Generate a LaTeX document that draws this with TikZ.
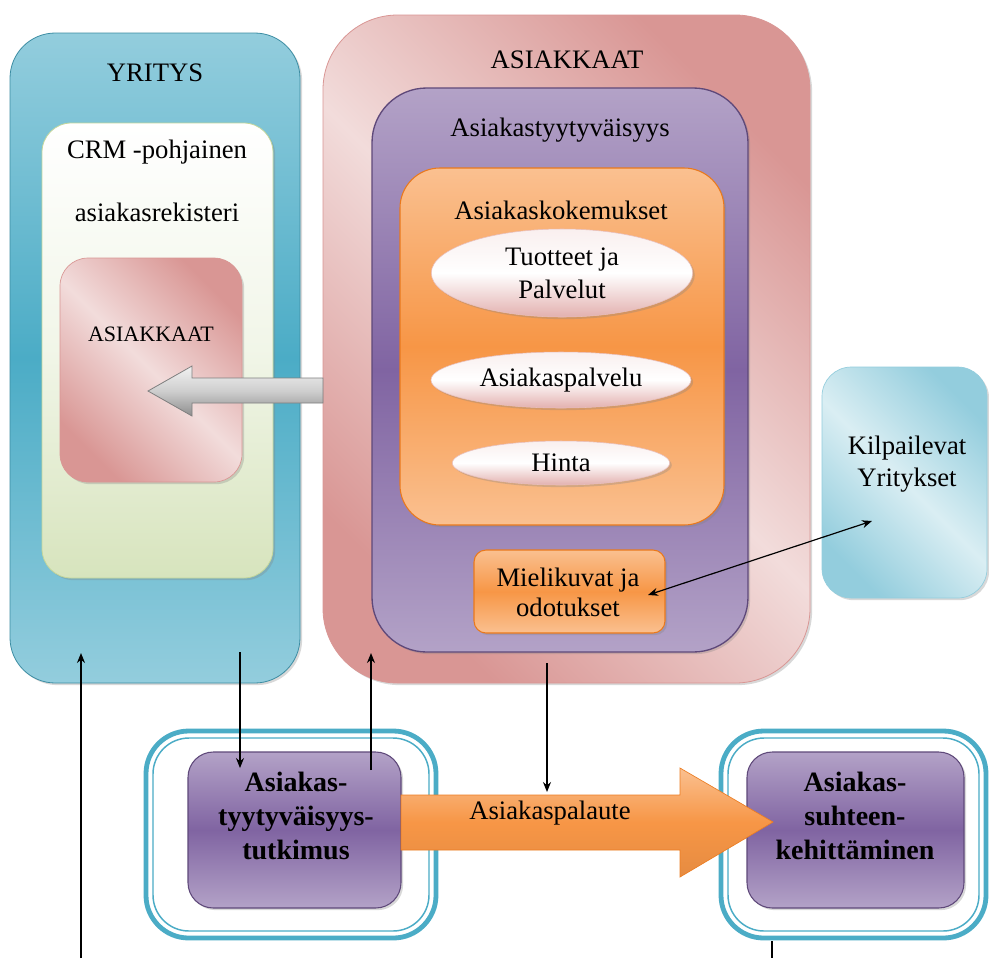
\documentclass[tikz,border=0pt]{standalone}
\usepackage{fontspec}
\setmainfont{Liberation Serif}
\usetikzlibrary{shadows,shapes.geometric,arrows.meta,fit}

\definecolor{blueDeep}{HTML}{4BACC6}
\definecolor{blueSoft}{HTML}{93CDDD}
\definecolor{blueEdge}{HTML}{3C8DA3}
\definecolor{bluePale}{HTML}{DAEEF3}
\definecolor{greenPale}{HTML}{D7E4BD}
\definecolor{greenEdge}{HTML}{C3D69B}
\definecolor{pinkDeep}{HTML}{D99694}
\definecolor{pinkPale}{HTML}{F2DCDB}
\definecolor{purpleDeep}{HTML}{8064A2}
\definecolor{purplePale}{HTML}{B3A2C7}
\definecolor{purpleEdge}{HTML}{5F497A}
\definecolor{orangeDeep}{HTML}{F79646}
\definecolor{orangePale}{HTML}{FAC090}
\definecolor{orangeEdge}{HTML}{E46C0A}
\definecolor{grayPale}{HTML}{F2F2F2}
\definecolor{grayDeep}{HTML}{A6A6A6}
\definecolor{grayEdge}{HTML}{7F7F7F}

\begin{document}
\begin{tikzpicture}[x=0.75pt, y=-0.75pt,
  panel/.style={rectangle, inner sep=0pt, outer sep=0pt},
  band/.style n args={2}{top color=#1, bottom color=#1, middle color=#2},
  sheen/.style n args={2}{top color=#2, bottom color=#2, middle color=#1, shading angle=-45},
  softshadow/.style={drop shadow={shadow xshift=1.6pt, shadow yshift=-1.6pt, opacity=0.3}},
  title/.style={font=\fontsize{20}{24}\selectfont, inner sep=0pt, align=center},
  subtitle/.style={font=\fontsize{16.5}{20}\selectfont, inner sep=0pt},
  heavy/.style={font=\fontsize{21}{25.5}\selectfont\bfseries, inner sep=0pt, align=center},
  oval/.style={ellipse, inner sep=0pt, align=center, font=\fontsize{20}{24.5}\selectfont,
    top color=pinkPale!45!white, bottom color=pinkDeep!75!white, middle color=white,
    draw=pinkDeep!60!white, line width=0.4pt, softshadow},
  ring/.style={panel, draw=blueDeep, fill=white},
  link/.style={line width=0.9pt, -{Stealth[length=7.5pt, width=6pt]}},
]
\useasboundingbox (0,0) rectangle (989,958);
\fill[white] (0,0) rectangle (989,958);

% ---------- company column ----------
\node[panel, fit={(10,33)(300,683)}, rounded corners=34pt, draw=blueEdge, line width=0.6pt,
      band={blueSoft}{blueDeep}, softshadow] (yritys) {};
\node[title] (yritysT) at (155,73) {YRITYS};

\node[panel, fit={(42,123)(273,578)}, rounded corners=22pt, draw=greenEdge, line width=0.6pt,
      top color=white, bottom color=greenPale, middle color=greenPale!35!white, softshadow] (crm) {};
\node[title] (crmA) at (157,152) {CRM -pohjainen};
\node[title] (crmB) at (157,212) {asiakasrekisteri};

\node[panel, fit={(60,258)(242,482)}, rounded corners=21pt, draw=pinkDeep, line width=0.5pt,
      sheen={pinkPale}{pinkDeep}, softshadow] (rekisteri) {};
\node[subtitle] (rekisteriT) at (151,334) {ASIAKKAAT};

% ---------- customers ----------
\node[panel, fit={(323,15)(810,683)}, rounded corners=56pt, draw=pinkDeep, line width=0.6pt,
      sheen={pinkPale}{pinkDeep}, softshadow] (asiakkaat) {};
\node[title] (asiakkaatT) at (567,60) {ASIAKKAAT};

\node[panel, fit={(372,88)(748,652)}, rounded corners=41pt, draw=purpleEdge, line width=1pt,
      band={purplePale}{purpleDeep}, softshadow] (tyyt) {};
\node[title] (tyytT) at (560,130) {Asiakastyytyväisyys};

\node[panel, fit={(400,168)(724,525)}, rounded corners=30pt, draw=orangeEdge!70!orangeDeep, line width=0.8pt,
      band={orangePale}{orangeDeep}, softshadow] (kok) {};
\node[title] (kokT) at (561,210) {Asiakaskokemukset};

\node[oval, minimum width=196pt, minimum height=66pt] (tuotteet) at (562,273) {Tuotteet ja\\Palvelut};
\node[oval, minimum width=195pt, minimum height=42pt] (palvelu) at (561,380) {Asiakaspalvelu};
\node[oval, minimum width=163pt, minimum height=33pt] (hinta) at (561,463) {Hinta};

\node[panel, fit={(474,550)(665,633)}, rounded corners=9pt, draw=orangeEdge!70!orangeDeep, line width=0.8pt,
      band={orangePale}{orangeDeep}, softshadow] (mieli) {};
\node[title, font=\fontsize{20}{22.5}\selectfont] (mieliT) at (568,592) {Mielikuvat ja\\odotukset};

% ---------- competitors ----------
\node[panel, fit={(822,367)(987,598)}, rounded corners=22pt, draw=blueSoft, line width=0.5pt,
      sheen={bluePale}{blueSoft}, softshadow] (kilp) {};
\node[title] (kilpT) at (907,464) {Kilpailevat\\Yritykset};

% ---------- research and development ----------
\node[ring, fit={(146,731)(436,938)}, rounded corners=32pt, line width=3.6pt] (ringL) {};
\node[panel, fit={(153,738)(429,931)}, rounded corners=27pt, draw=blueDeep, line width=1.1pt] (ringLi) {};
\node[panel, fit={(188,752)(401,908)}, rounded corners=19pt, draw=purpleEdge, line width=0.8pt,
      band={purplePale}{purpleDeep}, softshadow] (tutkimus) {};
\node[heavy] (tutkimusT) at (296,816) {Asiakas-\\tyytyväisyys-\\tutkimus};

\node[ring, fit={(721,731)(986,938)}, rounded corners=32pt, line width=3.6pt] (ringR) {};
\node[panel, fit={(728,738)(979,931)}, rounded corners=27pt, draw=blueDeep, line width=1.1pt] (ringRi) {};
\node[panel, fit={(747,752)(964,908)}, rounded corners=19pt, draw=purpleEdge, line width=0.8pt,
      band={purplePale}{purpleDeep}, softshadow] (kehitys) {};
\node[heavy] (kehitysT) at (855,816) {Asiakas-\\suhteen-\\kehittäminen};

% ---------- block arrows ----------
\draw[draw=grayEdge, line width=0.6pt, top color=grayPale, bottom color=grayDeep!85!black, middle color=grayDeep!55!white]
  (323,378) -- (192,378) -- (192,366) -- (148,391) -- (192,416) -- (192,403) -- (323,403) -- cycle;

\draw[draw=orangeEdge!60!orangeDeep, line width=0.5pt, top color=orangePale, bottom color=orangeDeep!93!black, middle color=orangeDeep]
  (401,795) -- (680,795) -- (680,768) -- (773,822) -- (680,877) -- (680,850) -- (401,850) -- cycle;
\node[title] (palaute) at (550,813) {Asiakaspalaute};

% ---------- connectors ----------
\coordinate (yritysOut) at (240,652);
\coordinate (tutkimusIn) at (240,768);
\coordinate (tutkimusOut) at (371,770);
\coordinate (asiakkaatIn) at (371,653);
\coordinate (asiakkaatOut) at (547,663);
\coordinate (palauteIn) at (547,792);
\coordinate (yritysIn) at (81,653);
\coordinate (lowerLeft) at (81,958);
\coordinate (kehitysOut) at (772,941);
\coordinate (lowerRight) at (772,958);
\coordinate (mieliEnd) at (648,595);
\coordinate (kilpEnd) at (872,521);

\draw[link] (yritysOut) -- (tutkimusIn);
\draw[link] (tutkimusOut) -- (asiakkaatIn);
\draw[link] (asiakkaatOut) -- (palauteIn);
\draw[link] (lowerLeft) -- (yritysIn);
\draw[line width=0.9pt] (kehitysOut) -- (lowerRight);
\draw[line width=0.9pt, {Stealth[length=7.5pt, width=6pt]}-{Stealth[length=7.5pt, width=6pt]}] (mieliEnd) -- (kilpEnd);
\end{tikzpicture}
\end{document}
